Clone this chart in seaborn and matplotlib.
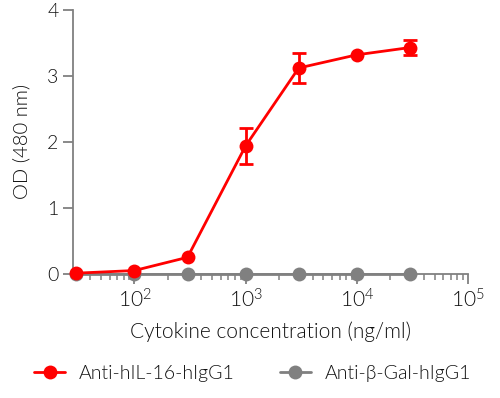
import numpy as np
import pandas as pd
import matplotlib
matplotlib.use("Agg")
import matplotlib.pyplot as plt
import matplotlib.ticker as mticker
import seaborn as sns

# data
concentration = [30, 100, 300, 1000, 3000, 10000, 30000]
od_hil16 = [0.01, 0.05, 0.25, 1.94, 3.12, 3.32, 3.43]
err_hil16 = [0.0, 0.0, 0.0, 0.27, 0.22, 0.0, 0.12]
od_bgal = [0.0, 0.0, 0.0, 0.0, 0.0, 0.0, 0.0]
series_names = ["Anti-hIL-16-hIgG1", "Anti-\u03b2-Gal-hIgG1"]
series_colors = ["#ff0000", "#808080"]

sns.set_style("ticks")
plt.rcParams["font.family"] = ["Lato", "DejaVu Sans"]
plt.rcParams["font.weight"] = 300
plt.rcParams["axes.labelweight"] = 300
plt.rcParams["mathtext.fontset"] = "custom"
plt.rcParams["mathtext.rm"] = "Lato:weight=300"
plt.rcParams["mathtext.it"] = "Lato:weight=300"
plt.rcParams["text.color"] = "#111111"

df = pd.DataFrame({
    "conc": concentration * 2,
    "od": od_hil16 + od_bgal,
    "series": [series_names[0]] * 7 + [series_names[1]] * 7,
})

fig = plt.figure(figsize=(5.0, 3.98), dpi=100)
ax = fig.add_axes([0.146, 0.312, 0.79, 0.663])

# gray first so red sits on top
sns.lineplot(data=df[df["series"] == series_names[1]], x="conc", y="od",
             color=series_colors[1], marker="o", markersize=10, linewidth=2,
             markeredgewidth=0, clip_on=False, ax=ax, label=series_names[1], zorder=3)
sns.lineplot(data=df[df["series"] == series_names[0]], x="conc", y="od",
             color=series_colors[0], marker="o", markersize=10, linewidth=2,
             markeredgewidth=0, clip_on=False, ax=ax, label=series_names[0], zorder=4)

mask = np.array(err_hil16) > 0
ax.errorbar(np.array(concentration)[mask], np.array(od_hil16)[mask],
            yerr=np.array(err_hil16)[mask], fmt="none", ecolor=series_colors[0],
            elinewidth=2, capsize=5, capthick=2, zorder=4, clip_on=False)

ax.set_xscale("log")
ax.set_xlim(28, 1e5)
ax.set_ylim(0, 4)
ax.set_yticks([0, 1, 2, 3, 4])
ax.set_xticks([1e2, 1e3, 1e4, 1e5])
ax.xaxis.set_major_formatter(mticker.FuncFormatter(lambda v, p: r"$10^{%d}$" % round(np.log10(v))))
ax.xaxis.set_minor_locator(mticker.LogLocator(base=10, subs=np.arange(2, 10), numticks=20))
ax.xaxis.set_minor_formatter(mticker.NullFormatter())

for s in ["top", "right"]:
    ax.spines[s].set_visible(False)
for s in ["left", "bottom"]:
    ax.spines[s].set_color("#808080")
    ax.spines[s].set_linewidth(1.3)

ax.tick_params(axis="both", which="major", length=7, width=1.3, color="#808080",
               labelsize=14, labelcolor="#111111")
ax.tick_params(axis="x", which="major", labelsize=15)
ax.tick_params(axis="x", which="minor", length=4, width=1.1, color="#808080")
for lab in ax.get_yticklabels():
    lab.set_fontweight(300)

ax.set_xlabel("Cytokine concentration (ng/ml)", fontsize=15, fontweight=300,
              color="#111111", labelpad=7)
ax.set_ylabel("OD (480 nm)", fontsize=14.5, fontweight=300, color="#111111", labelpad=12)

handles, labels = ax.get_legend_handles_labels()
order = [labels.index(n) for n in series_names]
leg = ax.legend([handles[i] for i in order], [labels[i] for i in order],
                loc="center", bbox_to_anchor=(0.505, 0.062), bbox_transform=fig.transFigure,
                ncol=2, frameon=False, prop={"size": 14, "weight": 300},
                handlelength=1.6, columnspacing=2.3, handletextpad=0.7,
                labelcolor="#111111")

fig.savefig("out.png", dpi=100)
